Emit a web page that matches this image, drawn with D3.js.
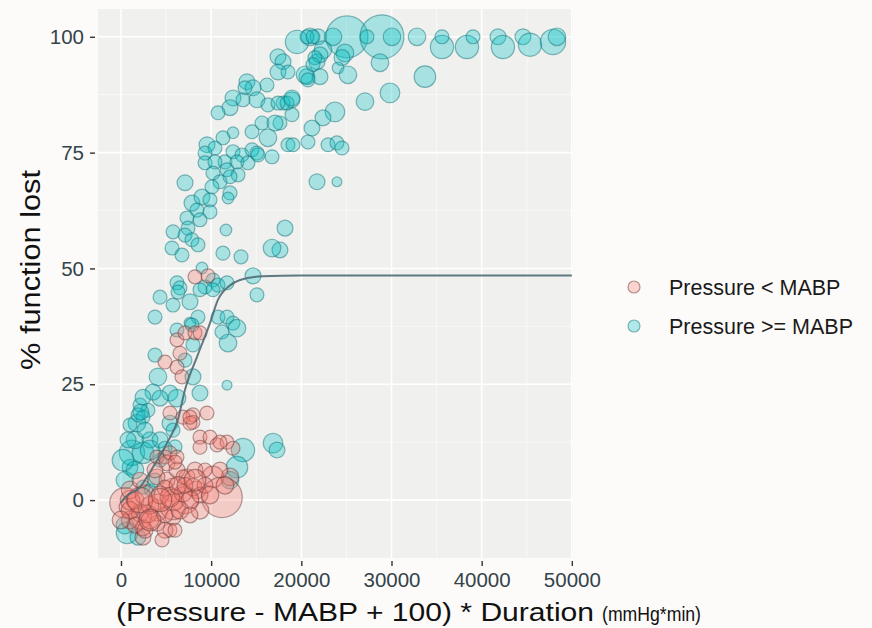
<!DOCTYPE html>
<html><head><meta charset="utf-8">
<script src="https://cdn.jsdelivr.net/npm/d3@7"></script>
<style>
body{margin:0;background:#fcfbf9;}
svg{display:block;font-family:"Liberation Sans",Arial,Helvetica,sans-serif;}
</style></head>
<body><svg id="chart" width="872" height="628"></svg>
<script>
// ---- data ----
const groups = ["Pressure < MABP", "Pressure >= MABP"];
const groupColors = ["#F8766D", "#00BFC4"];
const groupStrokes = ["#6e3c3a", "#15757c"];
const xTicks = [0, 10000, 20000, 30000, 40000, 50000];
const yTicks = [0, 25, 50, 75, 100];

// Pressure >= MABP: x = dose (mmHg*min), y = % function lost, s = size
const highX = [25060,28940,19520,20960,21850,23510,22400,21740,22070,24840,24510,24070,25170,20630,22070,27280,28720,30050,32830,33710,35600,35600,38370,39040,41810,42360,44580,45360,47910,48350,29830,27060,23730,22400,21180,18960,17970,18960,17630,20740,18520,19070,22960,23950,24510,21740,23950,18190,17630,20630,21290,17410,17970,17410,18520,20410,20740,21510,21290,13970,14640,13750,16190,12420,13530,15080,16300,17410,18410,18960,12090,10760,15640,17080,14530,16300,12420,11310,9540,10420,12420,13420,14530,15080,16750,9320,9320,11530,12860,14080,10420,11760,12980,10200,12090,10980,10090,12090,11870,15190,7100,7870,8980,9870,8430,9870,7320,8760,7430,5770,7100,7870,8540,5660,6760,11640,16750,11310,13310,8980,10200,6210,6540,9320,10760,11760,14640,4330,15080,10200,5770,7650,6320,8760,3770,8540,7650,10760,11760,12420,12860,11200,11870,6210,7980,3770,7100,7980,4100,11760,8760,3550,5430,6210,4330,2110,2990,1890,2440,7870,1770,2440,13530,16860,17300,1220,2440,12860,12090,670,3220,2440,1000,5430,5770,1550,440,1880,440,3220,4330,2660,1000,1550,3770,220,5990,2200,3220,4330,780,4880];
const highY = [100,100,98.9,100,100,100,97.2,94.6,96.1,96.5,95.5,93.3,91.8,91.4,91.4,100,94.4,100,100,91.4,97.8,100,97.8,100,100,97.8,100,98.3,98.9,100,87.9,86.0,83.8,82.5,80.3,86.4,85.7,83.2,81.4,77.3,76.7,76.7,76.7,77.1,76.0,68.7,68.7,58.7,54.0,100,100,95.7,94.6,92.4,92.4,91.8,90.7,95.5,94.0,90.3,89.0,89.0,89.6,86.8,86.4,86.4,85.3,85.7,85.7,86.8,84.7,83.6,81.4,81.4,79.5,78.2,79.3,78.2,76.7,76.0,75.2,74.5,75.6,74.9,74.1,74.9,72.8,73.0,73.0,72.8,73.0,71.3,70.2,70.6,69.8,68.7,67.6,66.3,65.2,74.5,68.5,64.1,65.4,64.8,62.6,62.2,60.9,60.5,58.7,57.9,57.2,56.2,55.1,54.4,52.9,58.3,54.4,53.3,52.5,50.1,47.5,46.9,45.8,46.0,46.4,46.9,48.4,43.8,44.3,45.4,42.1,42.8,44.9,45.4,39.5,39.5,38.2,39.5,39.5,38.2,37.1,36.3,33.9,36.7,33.5,31.3,30.2,26.6,26.6,24.8,23.1,23.3,23.1,22.0,22.0,20.5,19.4,18.4,17.9,37.8,16.6,22.2,10.8,12.3,10.8,10.2,10.2,7.1,4.3,-7.1,2.2,2.8,7.1,16.6,15.1,13.0,-5.4,-8.0,4.3,13.0,8.6,15.1,16.2,6.5,4.3,8.6,11.5,19.0,10.8,13.0,13.0,11.2];
const highS = [91,100,28,16,13,16,16,13,13,16,13,7,16,13,13,10,16,16,16,24,28,10,28,10,13,28,13,28,33,16,20,16,20,13,13,13,10,10,10,10,10,10,10,10,10,13,5,13,13,10,10,13,13,13,10,16,10,10,10,13,13,10,10,13,10,13,10,10,10,13,13,10,10,13,10,16,7,10,13,10,10,10,10,10,10,10,10,10,10,10,10,10,10,10,10,10,10,10,7,10,13,13,13,10,10,10,10,10,10,10,10,10,10,10,10,7,16,10,10,7,10,10,10,10,10,10,13,10,10,10,10,13,10,10,10,10,7,10,10,10,16,10,16,10,10,10,10,13,16,5,13,13,13,16,13,10,10,10,10,10,16,13,28,20,13,33,24,24,16,24,7,10,13,13,10,16,16,13,16,13,10,13,10,16,10,24,10,13,20,13,13,10];

// Pressure < MABP
const lowX = [8210,9650,6210,7100,8210,8760,6540,4880,6210,6760,7980,9540,5430,6880,7980,8760,9870,10650,11760,12420,3990,4880,10200,12090,440,5770,8430,7100,11200,3990,2110,5100,7320,7980,5770,2110,3990,3990,5770,6880,8760,5770,5430,1000,2440,670,3990,5100,6210,6880,5430,6210,1000,7650,7650,10980,8760,2440,4880,3000,
  1000,1550,2660,3220,4330,4880,5430,6320,7100,7650,8760,9320,9870,1550,2660,3220,4880,6540,7650,1000,2110,3770,5990,8210,9320,10980,11530,4550,5990,0,2110,4330,8210,3220];
const lowY = [48.2,48.4,34.6,36.1,36.1,36.1,31.7,29.8,28.7,26.6,18.4,18.8,18.8,17.9,16.8,13.6,13.6,11.9,12.5,11.2,9.3,9.3,5.0,5.0,-0.6,2.2,2.2,0,0.6,-2.2,-3.7,4.3,5.0,2.8,-1.5,-2.8,-5.0,-0.6,0,1.5,-2.2,-3.7,-6.5,-4.3,-8.0,-1.5,5.0,8.0,6.5,5.0,10.2,9.3,0,16.6,17.9,12.5,11.4,-6.0,-6.5,-3.0,
  2.2,0,1.1,-1.1,1.1,2.6,0.6,3.2,3.2,0,1.1,3.2,1.1,-5.4,-6.5,-4.3,-3.2,-2.2,-3.2,-2.2,4.3,6.5,8.2,6.5,6.5,6.5,3.2,-8.6,-6.5,-4.3,0,0,4.3,-4.3];
const lowS = [10,10,10,10,10,10,10,10,10,10,10,10,10,10,10,10,10,10,10,10,10,10,24,16,48,28,16,38,85,24,28,13,13,16,33,16,13,16,24,16,16,13,10,16,13,13,13,13,13,10,10,10,20,10,10,10,10,13,13,16,
  16,16,20,16,16,13,20,16,13,16,13,13,16,13,13,16,13,16,13,16,13,13,10,13,10,13,16,10,10,16,33,28,24,24];

// fitted curve
const fitX = [0,200,2100,3550,5100,6300,7100,8430,9870,10750,12000,13200,15700,19800,30000,40000,50000];
const fitY = [-0.6,0,2.8,7.1,12.3,17.3,23.8,30.9,38.2,43.2,46.2,47.5,48.3,48.5,48.5,48.5,48.5];

// ---- chart ----
const svg = d3.select("#chart");
const P = {l:98, r:573, t:9, b:558};
const x = d3.scaleLinear().domain([-2550, 50130]).range([P.l, P.r]);
const y = d3.scaleLinear().domain([-12.5, 106]).range([P.b, P.t]);
const rS = d3.scaleSqrt().domain([0, 100]).range([0, 22]);

svg.append("rect").attr("x",P.l).attr("y",P.t).attr("width",P.r-P.l).attr("height",P.b-P.t).attr("fill","#f0f0ee");

const g = svg.append("g");
const xMinor = [5000,15000,25000,35000,45000];
const yMinor = [12.5,37.5,62.5,87.5];
g.selectAll(".xm").data(xMinor).join("line").attr("x1",d=>x(d)).attr("x2",d=>x(d)).attr("y1",P.t).attr("y2",P.b).attr("stroke","#fafaf8").attr("stroke-width",0.8);
g.selectAll(".ym").data(yMinor).join("line").attr("y1",d=>y(d)).attr("y2",d=>y(d)).attr("x1",P.l).attr("x2",P.r).attr("stroke","#fafaf8").attr("stroke-width",0.8);
g.selectAll(".xg").data(xTicks).join("line").attr("x1",d=>x(d)).attr("x2",d=>x(d)).attr("y1",P.t).attr("y2",P.b).attr("stroke","#ffffff").attr("stroke-width",1.6);
g.selectAll(".yg").data(yTicks).join("line").attr("y1",d=>y(d)).attr("y2",d=>y(d)).attr("x1",P.l).attr("x2",P.r).attr("stroke","#ffffff").attr("stroke-width",1.6);

function pts(xs, ys, ss, gi){
  const data = xs.map((v,i)=>({x:v, y:ys[i], s:ss[i]}));
  svg.append("g").selectAll("circle").data(data).join("circle")
    .attr("cx",d=>x(d.x)).attr("cy",d=>y(d.y)).attr("r",d=>rS(d.s))
    .attr("fill",groupColors[gi]).attr("fill-opacity",0.3)
    .attr("stroke",groupStrokes[gi]).attr("stroke-opacity",0.5).attr("stroke-width",1.2);
}
pts(highX, highY, highS, 1);
pts(lowX, lowY, lowS, 0);

const line = d3.line().x(d=>x(d[0])).y(d=>y(d[1])).curve(d3.curveMonotoneX);
svg.append("path").datum(fitX.map((v,i)=>[v,fitY[i]])).attr("d",line)
  .attr("fill","none").attr("stroke","#4e6c74").attr("stroke-width",2).attr("stroke-opacity",0.9);

// axes
const xAxis = d3.axisBottom(x).tickValues(xTicks).tickFormat(d3.format("d")).tickSize(5).tickPadding(4);
const ax = svg.append("g").attr("transform",`translate(0,${P.b+3})`).call(xAxis);
ax.select(".domain").remove();
ax.selectAll("line").attr("stroke","#333").attr("stroke-width",1.4);
ax.selectAll("text").attr("font-size",20.5).attr("fill","#34444a").attr("dy","0.85em");

const yAxis = d3.axisLeft(y).tickValues(yTicks).tickSize(5).tickPadding(6);
const ay = svg.append("g").attr("transform",`translate(${P.l-3},0)`).call(yAxis);
ay.select(".domain").remove();
ay.selectAll("line").attr("stroke","#333").attr("stroke-width",1.4);
ay.selectAll("text").attr("font-size",20.5).attr("fill","#34444a");

// titles
const xt = svg.append("text").attr("y",621).attr("fill","#111");
xt.append("tspan").attr("x",116).attr("font-size",26).attr("textLength",478).attr("lengthAdjust","spacingAndGlyphs").text("(Pressure - MABP + 100) * Duration");
xt.append("tspan").attr("x",602).attr("font-size",20).attr("textLength",99).attr("lengthAdjust","spacingAndGlyphs").text("(mmHg*min)");

svg.append("text").attr("transform","translate(40,270) rotate(-90)").attr("text-anchor","middle")
  .attr("font-size",27).attr("textLength",200).attr("lengthAdjust","spacingAndGlyphs")
  .attr("fill","#111").text("% function lost");

// legend
const lg = svg.append("g");
groups.forEach((name,i)=>{
  const yy = 287 + i*39;
  lg.append("circle").attr("cx",634).attr("cy",yy).attr("r",6)
    .attr("fill",groupColors[i]).attr("fill-opacity",0.3)
    .attr("stroke",groupStrokes[i]).attr("stroke-opacity",0.5).attr("stroke-width",1.2);
  lg.append("text").attr("x",669).attr("y",yy).attr("dy","0.36em").attr("font-size",21.5).attr("fill","#1a1a1a").text(name);
});
</script></body></html>
